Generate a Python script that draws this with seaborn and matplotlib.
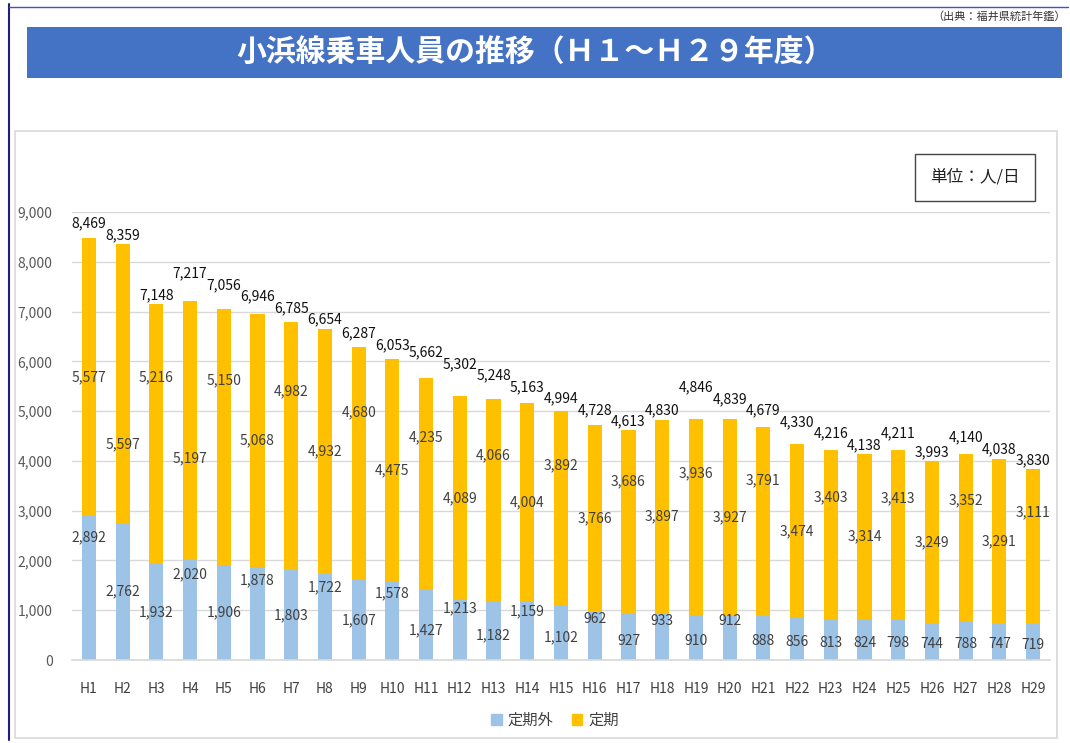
import matplotlib
matplotlib.use("Agg")
import matplotlib.pyplot as plt
import matplotlib.patches as mpatches
from matplotlib.lines import Line2D
import seaborn as sns
import pandas as pd
import numpy as np

years = [f"H{i}" for i in range(1, 30)]
teikigai = [2892, 2762, 1932, 2020, 1906, 1878, 1803, 1722, 1607, 1578,
            1427, 1213, 1182, 1159, 1102, 962, 927, 933, 910, 912,
            888, 856, 813, 824, 798, 744, 788, 747, 719]
teiki = [5577, 5597, 5216, 5197, 5150, 5068, 4982, 4932, 4680, 4475,
         4235, 4089, 4066, 4004, 3892, 3766, 3686, 3897, 3936, 3927,
         3791, 3474, 3403, 3314, 3413, 3249, 3352, 3291, 3111]
series_names = ["定期外", "定期"]
title = "小浜線乗車人員の推移（Ｈ１～Ｈ２９年度）"
source = "（出典：福井県統計年鑑）"
unit = "単位：人/日"

totals = [a + b for a, b in zip(teikigai, teiki)]

sns.set_theme(style="white")
plt.rcParams['font.family'] = ['Noto Sans CJK JP', 'DejaVu Sans']

BLUE = "#9DC3E6"
ORANGE = "#FFC000"

fig = plt.figure(figsize=(10.7, 7.43), dpi=100)
W, H = 1070, 743

def fx(x): return x / W
def fy(y): return 1 - y / H

# slide frame lines
fig.add_artist(Line2D([fx(9), fx(9)], [fy(4), fy(740)], color="#1F1F7A", lw=1.5))
fig.add_artist(Line2D([fx(9), fx(1068)], [fy(7), fy(7)], color="#4B4BD0", lw=1.0))
# chart frame
fig.add_artist(mpatches.Rectangle((fx(15), fy(738)), fx(1057) - fx(15), fy(131) - fy(738),
                                  transform=fig.transFigure, fill=False,
                                  edgecolor="#D9D9D9", lw=1.2))
# title banner
fig.add_artist(mpatches.Rectangle((fx(27), fy(78)), fx(1062) - fx(27), fy(27) - fy(78),
                                  transform=fig.transFigure, facecolor="#4472C4",
                                  edgecolor="none"))
fig.text(fx(535), fy(52), title, ha="center", va="center", color="white",
         fontsize=21.5, fontweight="bold")
fig.text(fx(1066), fy(17), source, ha="right", va="center", color="#333333", fontsize=8)

# unit box
fig.text(fx(975), fy(177), unit, ha="center", va="center", fontsize=12, color="#222222",
         bbox=dict(boxstyle="square,pad=0.9", facecolor="white", edgecolor="#444444", lw=1))

ax = fig.add_axes([fx(72), fy(660), fx(1050) - fx(72), fy(212) - fy(660)])

df = pd.DataFrame({"year": years, "teikigai": teikigai, "teiki": teiki, "total": totals})
sns.barplot(data=df, x="year", y="total", color=ORANGE, width=0.42, ax=ax,
            saturation=1, edgecolor="none")
sns.barplot(data=df, x="year", y="teikigai", color=BLUE, width=0.42, ax=ax,
            saturation=1, edgecolor="none")

ax.set_xlim(-0.5, len(years) - 0.5)
ax.set_ylim(0, 9000)
ax.set_yticks(range(0, 9001, 1000))
ax.set_yticklabels([f"{v:,}" for v in range(0, 9001, 1000)], color="#595959", fontsize=10)
ax.set_xticks(range(len(years)))
ax.set_xticklabels(years, color="#404040", fontsize=10)
ax.tick_params(axis="x", pad=16, length=0)
ax.tick_params(axis="y", pad=14, length=0)
ax.set_xlabel("")
ax.set_ylabel("")
ax.grid(axis="y", color="#D9D9D9", lw=1)
ax.set_axisbelow(True)
for s in ["top", "right", "left"]:
    ax.spines[s].set_visible(False)
ax.spines["bottom"].set_color("#D9D9D9")

# data-unit size of one pixel vertically
px = 9000 / (660 - 212)

# inside labels (staggered like the original)
orange_exc = {2: 0.28, 4: 0.39}
for i, (b, o) in enumerate(zip(teikigai, teiki)):
    yr = i + 1
    high = yr == 1 or (yr % 2 == 0 and 4 <= yr <= 20)
    fb = 0.85 if high else (0.5 if yr <= 10 else 0.42)
    ax.text(i, b * fb, f"{b:,}", ha="center", va="center", fontsize=10, color="#404040")
    fo = orange_exc.get(yr, 0.72 if (yr % 2 == 1 and yr != 1) else 0.5)
    ax.text(i, b + o * fo, f"{o:,}", ha="center", va="center", fontsize=10, color="#404040")

# total labels with simple stagger to avoid overlaps
lab_y = [t + 9 * px for t in totals]
gap = 11.5 * px
for _ in range(6):
    for i in range(1, len(totals)):
        if abs(lab_y[i] - lab_y[i - 1]) < gap:
            if totals[i] > totals[i - 1]:
                lab_y[i] = lab_y[i - 1] + gap
            else:
                lab_y[i - 1] = lab_y[i] + gap
for i, t in enumerate(totals):
    ax.text(i, lab_y[i], f"{t:,}", ha="center", va="center", fontsize=10,
            color="#111111", clip_on=False)

handles = [mpatches.Patch(color=BLUE, label=series_names[0]),
           mpatches.Patch(color=ORANGE, label=series_names[1])]
fig.legend(handles=handles, loc="center", bbox_to_anchor=(fx(555), fy(720)), ncol=2,
           frameon=False, fontsize=11, handlelength=0.7, handleheight=0.7,
           columnspacing=1.2, handletextpad=0.4, labelcolor="#404040")

fig.savefig("out.png", dpi=100)
